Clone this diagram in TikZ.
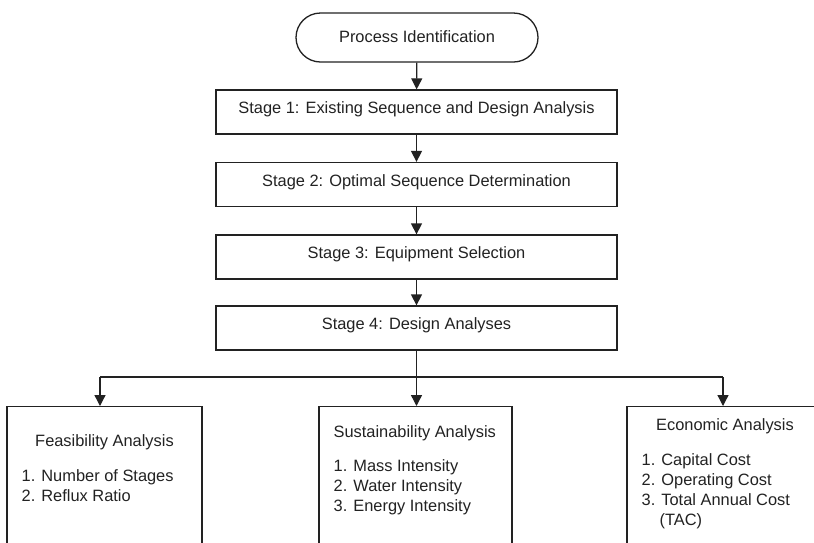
\documentclass[tikz,border=0pt]{standalone}
\usepackage{fontspec}
\setmainfont{Liberation Sans}
\usetikzlibrary{arrows.meta,shapes.misc}
\definecolor{ink}{HTML}{222222}
\begin{document}
\begin{tikzpicture}[x=1pt,y=-1pt,
  line width=1.3pt, draw=ink, text=ink,
  font=\fontsize{16.4}{20}\selectfont,
  arr/.style={-{Triangle[length=11pt,width=11pt]}},
  termbox/.style={draw, rounded rectangle, minimum width=242pt, minimum height=49pt,
    inner sep=0pt, text height=12pt, text depth=3pt},
  stagebox/.style={draw, rectangle, minimum width=401pt, minimum height=44pt,
    inner sep=0pt, text height=12pt, text depth=9pt},
  panel/.style={draw, rectangle, minimum height=170pt, inner sep=0pt, anchor=north},
  txt/.style={inner sep=0pt, anchor=base west},
  ctxt/.style={inner sep=0pt, anchor=base}
]
\useasboundingbox (0,0) rectangle (814,542);
\clip (0,0) rectangle (814,542);
\fill[white] (0,0) rectangle (814,542);

% main sequence
\node[termbox]  (pid) at (417,37.5)  {Process Identification};
\node[stagebox] (s1)  at (416.5,112) {Stage 1: Existing Sequence and Design Analysis};
\node[stagebox] (s2)  at (416.5,184.5) {Stage 2: Optimal Sequence Determination};
\node[stagebox] (s3)  at (416.5,257) {Stage 3: Equipment Selection};
\node[stagebox] (s4)  at (416.5,328) {Stage 4: Design Analyses};

\draw[arr] (pid) -- (s1);
\draw[arr] (s1) -- (s2);
\draw[arr] (s2) -- (s3);
\draw[arr] (s3) -- (s4);

% analysis panels (run past the lower edge)
\node[panel, minimum width=195pt] (feas) at (104.5,406) {};
\node[panel, minimum width=193pt] (sust) at (415.5,406) {};
\node[panel, minimum width=195pt] (econ) at (724.5,406) {};

% distribution bus
\coordinate (busL) at (100,377);
\coordinate (busR) at (723,377);
\draw (busL) -- (busR);
\draw[arr] (busL) -- (busL |- feas.north);
\draw[arr] (busR) -- (busR |- econ.north);
\draw[arr] (s4.south) -- (s4.south |- sust.north);

% panel contents
\node[ctxt] (feasT) at (104.5,446.5) {Feasibility Analysis};
\node[txt]  (feasA) at (21,481.5) {1. Number of Stages};
\node[txt]  (feasB) at (21,501.5) {2. Reflux Ratio};

\node[txt]  (sustT) at (333,437) {Sustainability Analysis};
\node[txt]  (sustA) at (333,471.7) {1. Mass Intensity};
\node[txt]  (sustB) at (333,491.7) {2. Water Intensity};
\node[txt]  (sustC) at (333,511.7) {3. Energy Intensity};

\node[ctxt] (econT) at (725,430) {Economic Analysis};
\node[txt]  (econA) at (641,465) {1. Capital Cost};
\node[txt]  (econB) at (641,485) {2. Operating Cost};
\node[txt]  (econC) at (641,505) {3. Total Annual Cost};
\node[txt]  (econD) at (659,525) {(TAC)};
\end{tikzpicture}
\end{document}
